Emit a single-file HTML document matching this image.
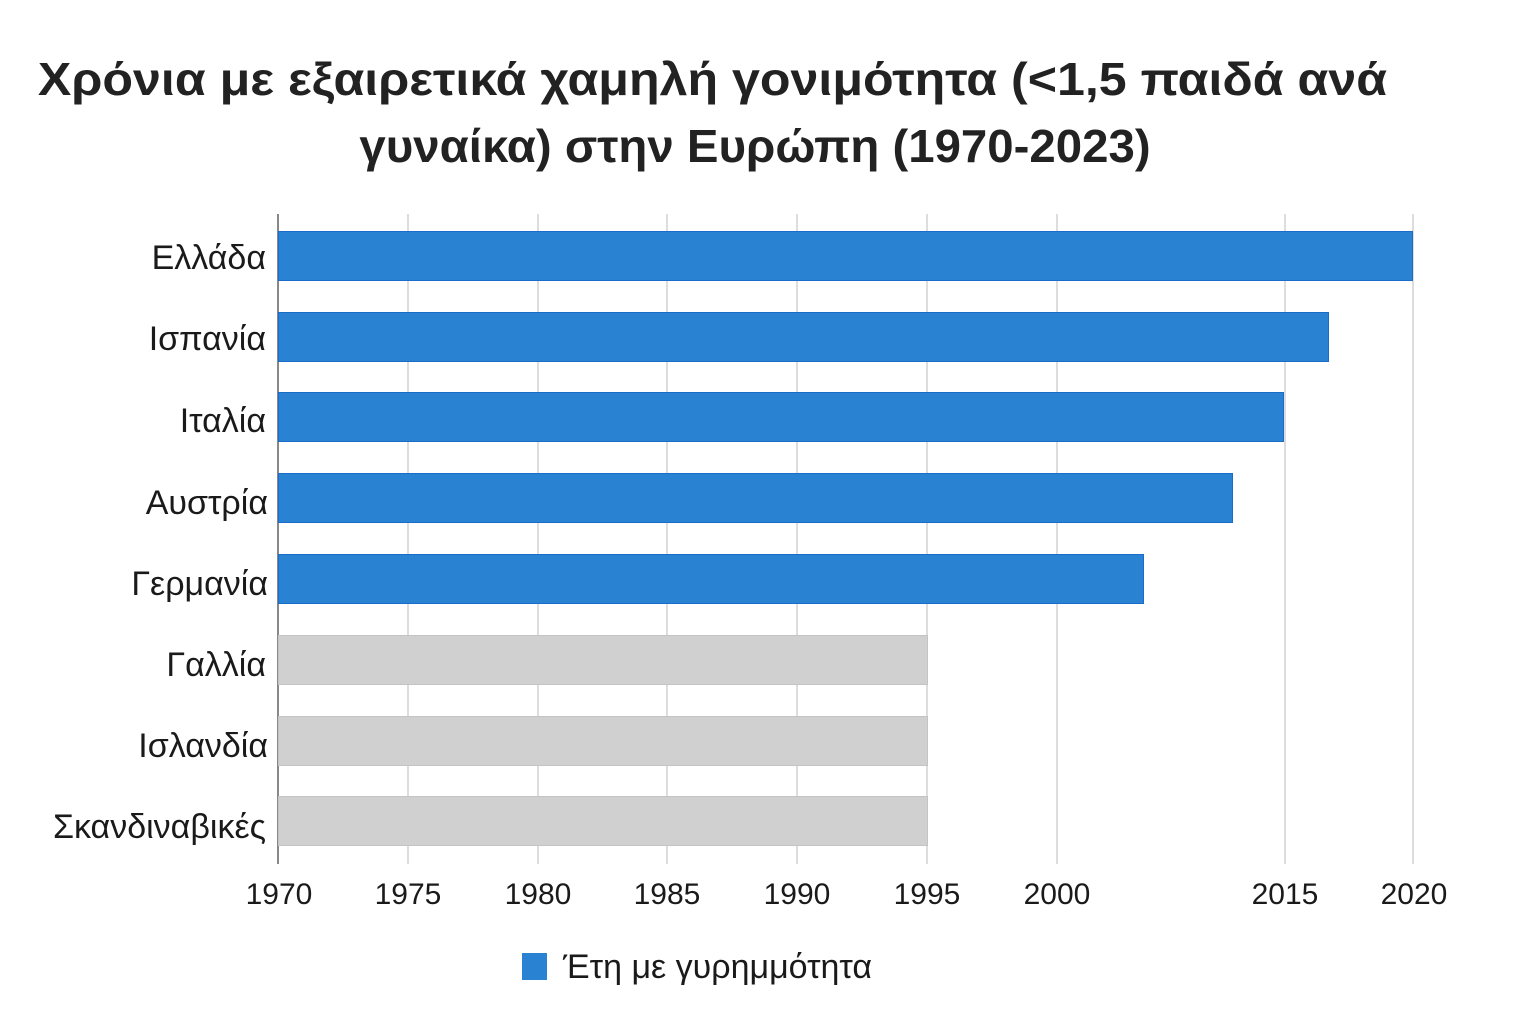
<!DOCTYPE html>
<html><head><meta charset="utf-8"><style>
body{margin:0;width:1536px;height:1024px;background:#fff;font-family:"Liberation Sans","DejaVu Sans",sans-serif;color:#1a1a1a;position:relative;overflow:hidden}
.t{position:absolute;font-weight:bold;font-size:46px;white-space:nowrap;color:#222;transform-origin:center}
.g{position:absolute;top:214px;height:650px;width:2px;background:#ddd}
.b{position:absolute;left:278px;height:50px;box-sizing:border-box}
.bl{background:#2a82d2;border:1px solid #1a6cc8}
.gr{background:#d0d0d0;border:1px solid #c4c4c4}
.l{position:absolute;right:1270px;font-size:34px;white-space:nowrap;line-height:50px}
.x{position:absolute;top:878px;font-size:30px;width:100px;margin-left:-50px;text-align:center}
</style></head><body>
<div class="t" style="left:40px;top:52px;width:1345px;text-align:center;transform:scaleX(1.09)">Χρόνια με εξαιρετικά χαμηλή γονιμότητα (&lt;1,5 παιδά ανά</div>
<div class="t" style="left:360px;top:119px;width:790px;text-align:center;transform:scaleX(1.03)">γυναίκα) στην Ευρώπη (1970-2023)</div>
<div class="g" style="left:407px"></div><div class="g" style="left:537px"></div><div class="g" style="left:666px"></div><div class="g" style="left:796px"></div><div class="g" style="left:926px"></div><div class="g" style="left:1056px"></div><div class="g" style="left:1284px"></div><div class="g" style="left:1412px"></div>
<div style="position:absolute;left:277px;top:214px;width:2px;height:650px;background:#888"></div>
<div class="b bl" style="top:231px;width:1135px"></div>
<div class="b bl" style="top:312px;width:1051px"></div>
<div class="b bl" style="top:392px;width:1006px"></div>
<div class="b bl" style="top:473px;width:955px"></div>
<div class="b bl" style="top:554px;width:866px"></div>
<div class="b gr" style="top:635px;width:650px"></div>
<div class="b gr" style="top:716px;width:650px"></div>
<div class="b gr" style="top:796px;width:650px"></div>
<div class="l" style="top:233px">Ελλάδα</div>
<div class="l" style="top:314px">Ισπανία</div>
<div class="l" style="top:396px">Ιταλία</div>
<div class="l" style="top:478px;right:1268px">Αυστρία</div>
<div class="l" style="top:559px;right:1268px">Γερμανία</div>
<div class="l" style="top:640px">Γαλλία</div>
<div class="l" style="top:721px;right:1268px">Ισλανδία</div>
<div class="l" style="top:802px">Σκανδιναβικές</div>
<div class="x" style="left:279px">1970</div><div class="x" style="left:408px">1975</div><div class="x" style="left:538px">1980</div><div class="x" style="left:667px">1985</div><div class="x" style="left:797px">1990</div><div class="x" style="left:927px">1995</div><div class="x" style="left:1057px">2000</div><div class="x" style="left:1285px">2015</div><div class="x" style="left:1414px">2020</div>
<div style="position:absolute;left:522px;top:953px;width:25px;height:27px;background:#2a82d2"></div>
<div style="position:absolute;left:563px;top:948px;font-size:34px;white-space:nowrap">Έτη με γυρημμότητα</div>
</body></html>
